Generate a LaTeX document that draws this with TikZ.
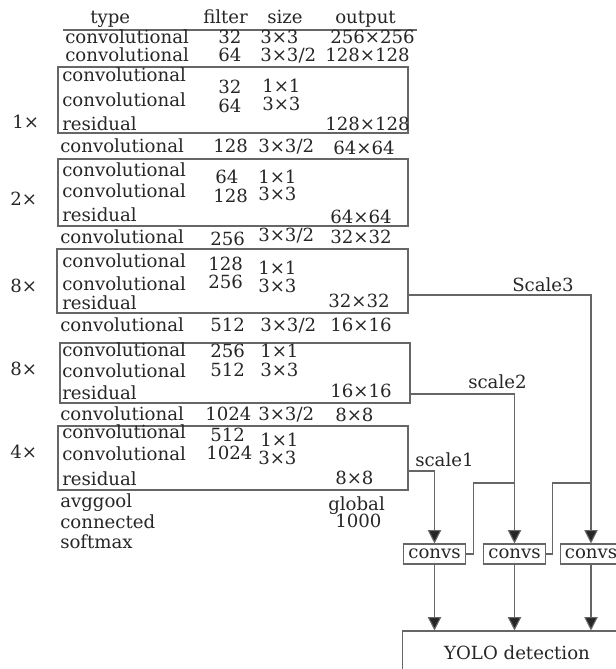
\documentclass[tikz,border=0pt]{standalone}
\usepackage{fontspec}
\setmainfont{DejaVu Serif}
\usetikzlibrary{arrows.meta,positioning}
\tikzset{
  cell/.style={anchor=base west, inner sep=0pt, text=black!85},
  blk/.style={draw=black!60, line width=0.8pt},
  wire/.style={draw=black!60, line width=0.8pt},
  arr/.style={wire, -{Triangle[width=10pt,length=10pt,fill=black!85]}},
  convbox/.style={draw=black!60, line width=0.8pt, minimum width=46pt, minimum height=15pt, inner sep=0pt, text=black!85},
}
\begin{document}
\begin{tikzpicture}[x=0.75pt, y=-0.75pt, font=\fontsize{13.6}{16}\selectfont]
  \useasboundingbox (0,0) rectangle (616,669);
  \clip (0,0) rectangle (616,669);

  % table header
  \foreach \x/\t [count=\i] in {90/type, 203/filter, 267/size, 335/output}
    \node[cell] (hd\i) at (\x,23) {\t};
  \draw[wire] (63,30) -- (417,30);

  % plain rows
  \foreach \x/\y/\t [count=\i] in {
      65/43/convolutional, 218/43/32, 260/43/{3×3}, 330/43/{256×256},
      65/61/convolutional, 218/61/64, 260/61/{3×3/2}, 325/61/{128×128},
      60/152/convolutional, 213/152/128, 258/152/{3×3/2}, 333/154/{64×64},
      60/243/convolutional, 210/245/256, 258/241/{3×3/2}, 330/243/{32×32},
      60/331/convolutional, 210/331/512, 260/331/{3×3/2}, 330/331/{16×16},
      60/420/convolutional, 205/420/1024, 258/420/{3×3/2}, 335/421/{8×8},
      60/507/avggool, 328/510/global, 60/528/connected, 335/527/1000, 60/548/softmax}
    \node[cell] (rw\i) at (\x,\y) {\t};

  % residual blocks
  \draw[blk] (58,67) rectangle (408,133);
  \draw[blk] (58,159) rectangle (408,226);
  \draw[blk] (57,249) rectangle (408,313);
  \draw[blk] (60,343) rectangle (410,403);
  \draw[blk] (58,426) rectangle (408,490);
  \foreach \x/\y/\t [count=\i] in {
      62/81/convolutional, 218/93/32, 262/92/{1×1},
      62/106/convolutional, 218/112/64, 262/110/{3×3},
      62/130/residual, 325/130/{128×128}, 12/128/{1×},
      62/176/convolutional, 215/183/64, 258/183/{1×1},
      62/197/convolutional, 213/202/128, 258/200/{3×3},
      62/221/residual, 330/223/{64×64}, 10/205/{2×},
      62/267/convolutional, 208/270/128, 258/274/{1×1},
      62/290/convolutional, 208/288/256, 258/292/{3×3},
      62/309/residual, 328/307/{32×32}, 10/292/{8×},
      62/356/convolutional, 210/357/256, 260/357/{1×1},
      62/377/convolutional, 210/376/512, 260/376/{3×3},
      62/399/residual, 330/397/{16×16}, 10/375/{8×},
      62/438/convolutional, 210/441/512, 260/446/{1×1},
      62/460/convolutional, 206/459/1024, 258/464/{3×3},
      62/485/residual, 335/484/{8×8}, 10/458/{4×}}
    \node[cell] (bk\i) at (\x,\y) {\t};

  % detection branches
  \coordinate (out3) at (408,295);
  \coordinate (out2) at (410,394);
  \coordinate (out1) at (408,471);
  \node[convbox] (cv1) at (434.5,554) {convs};
  \node[convbox] (cv2) at (514.5,554) {convs};
  \node[convbox] (cv3) at (591,554) {convs};
  \node[convbox, minimum width=172pt, minimum height=33pt] (yolo) at (517,653) {YOLO detection};

  \draw[arr] (out3) -| (cv3.north);
  \draw[arr] (out2) -| (cv2.north);
  \draw[arr] (out1) -| (cv1.north);
  \node[cell] (lb3) at (512,291) {Scale3};
  \node[cell] (lb2) at (468,388) {scale2};
  \node[cell] (lb1) at (415,466) {scale1};

  \coordinate (jn2) at (515,483);
  \coordinate (jn3) at (591,483);
  \draw[wire] (cv1.east) -- ++(8,0) |- (jn2);
  \draw[wire] (cv2.east) -- ++(7,0) |- (jn3);

  \foreach \c in {cv1, cv2, cv3}
    \draw[arr] (\c.south) -- (\c.south |- yolo.north);
\end{tikzpicture}
\end{document}
